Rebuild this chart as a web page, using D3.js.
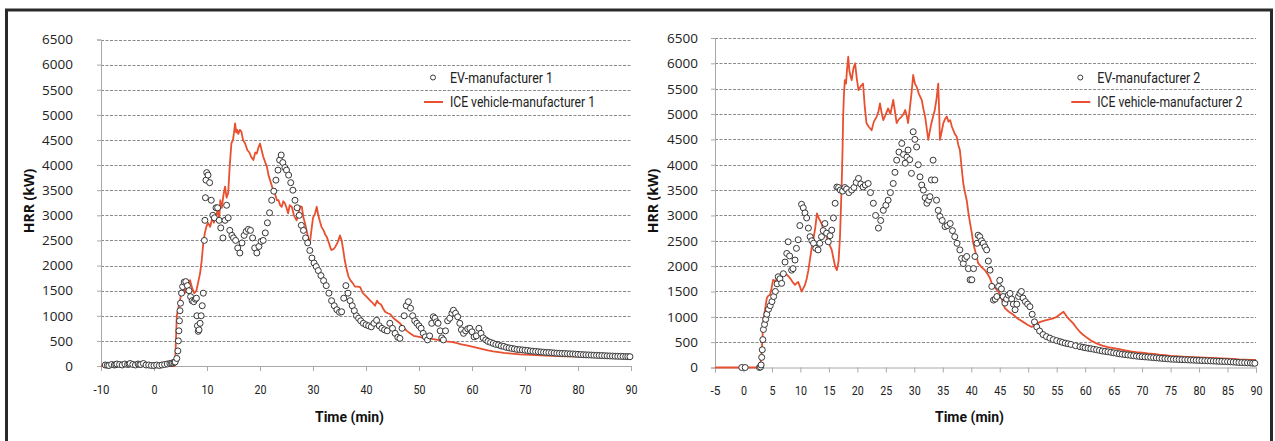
<!DOCTYPE html>
<html><head><meta charset="utf-8">
<script src="https://cdn.jsdelivr.net/npm/d3@7"></script>
<style>
html,body{margin:0;padding:0;background:#fff;}
svg{display:block;}
</style></head>
<body>
<svg id="chart" width="1275" height="441"></svg>
<script>
// ---------- DATA (time in min, HRR in kW) ----------
const yTicks = [0,500,1000,1500,2000,2500,3000,3500,4000,4500,5000,5500,6000,6500];
const xTicksLeft = [-10,0,10,20,30,40,50,60,70,80,90];
const xTicksRight = [-5,0,5,10,15,20,25,30,35,40,45,50,55,60,65,70,75,80,85,90];
const legendLeft = ["EV-manufacturer 1","ICE vehicle-manufacturer 1"];
const legendRight = ["EV-manufacturer 2","ICE vehicle-manufacturer 2"];

const ev1 = [[-9.2,20],[-8.8,15],[-8.5,10],[-8,30],[-7.5,20],[-7.2,25],[-7,40],[-6.5,30],[-6,20],[-5.5,40],[-5,30],[-4.7,35],[-4.5,50],[-4,30],[-3.5,20],[-3,40],[-2.7,30],[-2.5,30],[-2,50],[-1.5,20],[-1,20],[-0.5,10],[0,10],[0.5,20],[1,10],[1.5,20],[2,30],[2.5,40],[3,50],[3.3,55],[3.5,60],[3.8,70],[4,80],[4.3,150],
[4.5,300],[4.6,500],[4.7,700],[4.8,900],[4.9,1100],[5.0,1250],[5.2,1450],[5.4,1580],[5.7,1670],[6.0,1680],[6.3,1600],[6.6,1500],[6.9,1380],[7.2,1300],[7.5,1280],[7.8,1330],[8.0,1350],[8.1,1000],[8.2,800],[8.35,690],[8.5,720],[8.7,850],[8.9,1000],[9.1,1200],[9.3,1450],[9.5,2500],[9.6,2900],[9.7,3350],[9.8,3700],[9.95,3850],[10.2,3800],[10.5,3650],[10.8,3300],[11.1,3000],[11.4,2950],[11.7,3150],[12.0,3150],[12.3,2900],[12.6,2750],[13.0,2550],[13.4,2900],[13.7,3200],[14.0,2950],[14.3,2700],[14.7,2600],[15.0,2550],[15.4,2500],[15.8,2350],[16.2,2250],[16.6,2450],[17.0,2600],[17.4,2680],[17.8,2720],[18.2,2700],[18.6,2550],[19.0,2350],[19.4,2250],[19.8,2380],[20.2,2480],[20.6,2500],[21.0,2650],[21.4,2850],[21.8,3050],[22.2,3300],[22.6,3480],[23.0,3700],[23.4,3900],[23.7,4100],[24.0,4200],[24.3,4050],[24.7,3950],[25.0,3900],[25.4,3800],[25.8,3650],[26.2,3500],[26.6,3300],[27.0,3150],[27.4,3000],[27.8,2800],[28.2,2700],[28.6,2550],[29.0,2450],[29.4,2300],[29.8,2150],[30.2,2050],[30.6,1980],[31.0,1900],[31.5,1800],[32.0,1700],[32.5,1600],[33.0,1450],[33.5,1300],[34.0,1200],[34.5,1120],[35.0,1070],[35.4,1080],[35.8,1350],[36.2,1600],[36.6,1450],[37.0,1300],[37.4,1200],[37.8,1100],[38.2,1000],[38.6,950],[39.0,900],[39.5,850],[40.0,820],[40.5,800],[41.0,780],[41.5,850],[42.0,910],[42.5,800],[43.0,750],[43.5,720],[44.0,700],[44.5,850],[45.0,750],[45.5,650],[46.0,570],[46.4,550],[46.8,750],[47.2,1000],[47.6,1200],[48.0,1280],[48.4,1150],[48.8,1000],[49.2,900],[49.6,850],[50.0,800],[50.4,750],[50.8,650],[51.2,580],[51.6,520],[52.0,600],[52.4,850],[52.7,980],[53.0,950],[53.3,880],[53.6,850],[54.0,700],[54.3,560],[54.6,520],[55.0,700],[55.4,900],[55.8,950],[56.2,1050],[56.5,1110],[56.9,1050],[57.3,980],[57.7,850],[58.0,720],[58.4,650],[58.8,700],[59.2,740],[59.6,750],[60.0,680],[60.4,580],[60.8,600],[61.3,750],[61.7,650],[62.1,560],[62.6,520],[63.0,490],[63.5,470],[64,450],[64.5,430],[65,420],[65.5,400],[66,390],[66.5,370],[67,360],[67.5,350],[68,340],[68.5,330],[69,325],[69.5,320],[70,315],[70.5,308],[71,300],[71.5,295],[72,290],[72.5,285],[73,280],[73.5,275],[74,270],[74.5,268],[75,265],[75.5,260],[76,255],[76.5,252],[77,250],[77.5,248],[78,245],[78.5,242],[79,240],[79.5,236],[80,232],[80.5,228],[81,225],[81.5,222],[82,220],[82.5,218],[83,215],[83.5,212],[84,210],[84.5,208],[85,205],[85.5,202],[86,200],[86.5,198],[87,195],[87.5,194],[88,192],[88.5,190],[89,188],[89.4,187],[89.8,185]];

const ice1 = [[-10,0],[-5,0],[0,0],[3.9,0],[4.0,100],[4.3,1000],[4.8,1250],[5.2,1480],[5.5,1640],[5.8,1450],[6.1,1550],[6.5,1650],[6.8,1710],[7.2,1550],[7.6,1450],[8.0,1500],[8.4,1700],[8.7,1850],[9.0,2100],[9.3,2450],[9.6,2650],[9.9,2780],[10.2,2850],[10.6,2770],[11.0,2950],[11.3,2850],[11.6,2950],[12.0,3100],[12.3,2900],[12.5,3300],[12.8,3150],[13.1,3400],[13.4,3570],[13.7,3350],[14.0,3450],[14.3,4000],[14.6,4430],[14.9,4500],[15.1,4650],[15.3,4830],[15.5,4650],[15.7,4700],[15.9,4620],[16.2,4700],[16.5,4660],[16.8,4500],[17.2,4430],[17.6,4300],[18.0,4250],[18.4,4150],[18.75,4100],[19.1,4250],[19.4,4230],[19.7,4350],[20.0,4430],[20.3,4300],[20.6,4170],[21.0,4050],[21.3,3970],[21.6,3800],[21.9,3700],[22.2,3600],[22.5,3500],[22.9,3400],[23.2,3300],[23.5,3300],[23.8,3200],[24.1,3170],[24.4,3280],[24.7,3240],[25.0,3150],[25.3,3040],[25.6,3200],[26.0,3170],[26.4,3000],[26.9,2900],[27.3,3050],[27.6,3180],[27.9,3170],[28.2,2950],[28.5,2840],[28.9,2650],[29.2,2500],[29.4,2440],[29.7,2700],[30.0,2950],[30.4,3040],[30.7,3170],[31.0,3000],[31.3,2880],[31.6,2770],[32.0,2700],[32.3,2620],[32.6,2570],[33.0,2450],[33.3,2350],[33.5,2310],[33.9,2330],[34.2,2370],[34.6,2450],[35.1,2600],[35.4,2500],[35.7,2310],[36.0,2100],[36.4,1900],[36.7,1780],[37.1,1700],[37.5,1650],[37.9,1580],[38.4,1580],[38.9,1570],[39.4,1450],[40.1,1380],[40.8,1300],[41.3,1250],[41.7,1200],[42.1,1300],[42.4,1250],[42.8,1230],[43.2,1150],[43.6,1080],[44.1,1050],[44.6,1030],[45.2,950],[45.8,900],[46.4,850],[47.0,780],[47.7,700],[48.3,650],[49.0,600],[50.0,580],[51.0,555],[52.0,545],[53.0,530],[54.0,510],[55.0,490],[56.0,480],[57.0,460],[58.0,430],[59.0,410],[60.0,385],[61.0,360],[62.0,335],[63.0,310],[64.0,290],[65.0,275],[66.0,260],[67.0,250],[68.0,240],[69.0,230],[70,225],[72,215],[74,205],[76,198],[78,192],[80,188],[82,185],[84,182],[86,178],[88,175],[90,172]];

const ev2 = [[-0.3,0],[0.3,0],[2.8,0],[3.0,10],[3.1,50],[3.2,200],[3.3,350],[3.4,550],[3.5,750],[3.7,850],[3.9,950],[4.1,1050],[4.4,1150],[4.7,1220],[5.0,1300],[5.3,1400],[5.6,1500],[5.9,1650],[6.1,1790],[6.4,1750],[6.7,1660],[7.0,1850],[7.3,2080],[7.6,2250],[7.85,2480],[8.1,2200],[8.45,1920],[8.7,1950],[9.05,2120],[9.3,2350],[9.6,2520],[9.9,2800],[10.2,3220],[10.5,3150],[10.8,3050],[11.1,2950],[11.4,2750],[11.7,2580],[12.0,2500],[12.3,2450],[12.7,2350],[13.1,2320],[13.4,2450],[13.7,2580],[14.0,2700],[14.3,2840],[14.6,2650],[14.9,2480],[15.2,2600],[15.5,2710],[15.8,2950],[16.1,3240],[16.4,3560],[16.7,3550],[17.0,3500],[17.4,3480],[17.8,3550],[18.1,3520],[18.5,3450],[19.0,3500],[19.4,3550],[19.8,3650],[20.2,3730],[20.6,3620],[21.0,3560],[21.4,3600],[21.9,3630],[22.3,3450],[22.8,3240],[23.2,3000],[23.7,2750],[24.1,2900],[24.55,3100],[25.0,3200],[25.4,3300],[25.8,3450],[26.3,3630],[26.6,3850],[26.9,4090],[27.3,4250],[27.8,4420],[28.1,4200],[28.4,4030],[28.7,4150],[28.9,4290],[29.2,4100],[29.5,3830],[29.8,4650],[30.1,4500],[30.4,4350],[30.7,4000],[31.0,3760],[31.3,3600],[31.6,3500],[31.9,3350],[32.2,3240],[32.5,3300],[32.75,3370],[33.0,3700],[33.3,4090],[33.6,3700],[33.9,3300],[34.2,3100],[34.5,2980],[34.9,2900],[35.4,2780],[35.8,2800],[36.3,2840],[36.7,2700],[37.1,2580],[37.5,2450],[38.0,2320],[38.3,2150],[38.6,2050],[38.9,2150],[39.2,2190],[39.5,1950],[39.8,1730],[40.1,1730],[40.4,1950],[40.65,2190],[41.0,2450],[41.2,2610],[41.5,2580],[41.8,2500],[42.1,2450],[42.4,2380],[42.7,2320],[43.0,2100],[43.3,1920],[43.6,1600],[43.9,1330],[44.2,1350],[44.5,1400],[44.8,1600],[45.0,1720],[45.3,1550],[45.6,1400],[45.9,1270],[46.2,1350],[46.5,1430],[46.8,1460],[47.1,1350],[47.4,1250],[47.7,1140],[48.0,1250],[48.3,1400],[48.55,1460],[48.8,1500],[49.1,1370],[49.5,1300],[49.9,1250],[50.3,1200],[50.7,1050],[51.1,900],[51.5,800],[52.0,720],[52.6,650],[53.2,610],[53.8,580],[54.4,550],[55.0,530],[55.6,510],[56.0,495],[56.5,480],[57.0,468],[57.5,455],[58.3,430],[59.1,410],[59.6,400],[60,390],[60.5,380],[61,370],[61.5,360],[62,350],[62.5,338],[63,325],[63.5,318],[64,310],[64.5,300],[65,290],[65.5,280],[66,270],[66.5,262],[67,255],[67.5,248],[68,240],[68.5,232],[69,225],[69.5,219],[70,213],[70.5,209],[71,205],[71.5,200],[72,195],[72.5,190],[73,185],[73.5,180],[74,175],[74.5,170],[75,165],[75.5,162],[76,160],[76.5,157],[77,155],[77.5,152],[78,150],[78.5,147],[79,145],[79.5,142],[80,140],[80.5,137],[81,135],[81.5,132],[82,130],[82.5,127],[83,125],[83.5,122],[84,120],[84.5,117],[85,115],[85.5,111],[86,108],[86.5,104],[87,100],[87.5,97],[88,95],[88.5,92],[89,90],[89.4,86],[89.8,83]];

const ice2 = [[-5,0],[0,0],[2.9,0],[3.2,300],[3.5,940],[3.8,1150],[4.1,1370],[4.4,1420],[4.66,1430],[4.9,1550],[5.2,1730],[5.6,1700],[6.1,1790],[6.7,1820],[7.3,1860],[7.7,1820],[8.2,1760],[8.6,1690],[9.05,1630],[9.3,1660],[9.6,1690],[9.9,1600],[10.2,1500],[10.5,1560],[10.8,1630],[11.1,1750],[11.4,1920],[11.7,2150],[12.0,2380],[12.3,2550],[12.6,2750],[12.9,3040],[13.2,2950],[13.7,2840],[14.1,2700],[14.6,2580],[15.0,2450],[15.5,2320],[15.8,2150],[16.1,1990],[16.4,1920],[16.7,2100],[16.95,2580],[17.1,3100],[17.25,3630],[17.4,4300],[17.5,4950],[17.65,5400],[17.8,5670],[18.0,5600],[18.2,5900],[18.4,6130],[18.6,5850],[18.8,5750],[19.0,5670],[19.3,5900],[19.6,6000],[19.9,5700],[20.2,5470],[20.6,5550],[21.0,5600],[21.3,5140],[21.6,4820],[22.0,4750],[22.5,4680],[22.9,4850],[23.4,4950],[23.7,5050],[23.97,5210],[24.3,5000],[24.55,4880],[25.0,5000],[25.4,5110],[25.8,5000],[26.3,5280],[26.6,5050],[26.9,4820],[27.3,4900],[27.8,4950],[28.1,5000],[28.4,5080],[28.7,4950],[28.9,4820],[29.2,5100],[29.5,5400],[29.8,5770],[30.1,5600],[30.4,5540],[30.8,5400],[31.3,5280],[31.6,5100],[31.9,4950],[32.2,4700],[32.45,4490],[32.7,4650],[33.0,4820],[33.3,4950],[33.6,5080],[33.9,5300],[34.2,5600],[34.35,5100],[34.5,4490],[34.8,4650],[35.1,4820],[35.4,4900],[35.7,4950],[36.0,4850],[36.3,4880],[36.6,4750],[36.85,4680],[37.15,4600],[37.45,4550],[37.7,4400],[38.0,4290],[38.3,3950],[38.6,3630],[38.9,3450],[39.2,3300],[39.5,3050],[39.8,2840],[40.1,2650],[40.35,2450],[40.8,2250],[41.2,2060],[41.8,1980],[42.4,1920],[43.0,1820],[43.3,1760],[43.6,1660],[44.0,1600],[44.5,1530],[45.0,1460],[45.5,1300],[45.9,1170],[46.6,1100],[47.4,1040],[48.2,960],[49.1,900],[49.8,850],[50.6,800],[51.3,850],[52.1,900],[53.0,930],[53.7,950],[54.4,970],[55.0,1000],[55.6,1050],[56.2,1100],[56.5,1050],[56.8,1000],[57.3,940],[57.9,870],[58.5,780],[59.1,700],[59.7,640],[60.4,580],[61.2,520],[62.0,477],[63.0,430],[64.0,400],[65.0,380],[66,360],[67,340],[68,320],[69,305],[70,295],[71,280],[72,270],[73,255],[74,245],[75,230],[76,222],[77,215],[78,210],[79,205],[80,200],[81,195],[82,190],[83,185],[84,180],[85,175],[86,168],[87,160],[88,155],[89,150],[90,148]];

// ---------- LAYOUT ----------
const svg = d3.select("#chart");
const RED = "#e8502f";
const tickFont = "'Open Sans', 'Noto Sans', sans-serif";
const condFont = "'Roboto', 'Liberation Sans', sans-serif";

svg.append("rect").attr("x",6.5).attr("y",10).attr("width",1265).attr("height",480)
  .attr("fill","none").attr("stroke","#2a2a2a").attr("stroke-width",3);

const panels = [
  {ev:ev1, ice:ice1, xDom:[-10,90], xTicks:xTicksLeft, legend:legendLeft,
   x0:101, x1:631, y0:366, y1:39.5, yLabX:73, yTitleX:28, xTitleX:349.5, legX:450},
  {ev:ev2, ice:ice2, xDom:[-5,90], xTicks:xTicksRight, legend:legendRight,
   x0:715, x1:1256, y0:367.5, y1:38, yLabX:698, yTitleX:652, xTitleX:969.5, legX:1097.3}
];

const labelWidth = s => s.split("").reduce((a, c) => a + (c === "-" ? 4 : 6), 0);

panels.forEach(p => {
  const x = d3.scaleLinear().domain(p.xDom).range([p.x0, p.x1]);
  const y = d3.scaleLinear().domain([0, 6500]).range([p.y0, p.y1]);
  const g = svg.append("g");

  // gridlines
  g.append("g").selectAll("line").data(yTicks.filter(d => d > 0)).join("line")
    .attr("x1", p.x0).attr("x2", p.x1)
    .attr("y1", d => Math.round(y(d)) + 0.5).attr("y2", d => Math.round(y(d)) + 0.5)
    .attr("stroke", "#8a8a8a").attr("stroke-width", 1).attr("stroke-dasharray", "3,1.5");

  // y axis
  const yAxis = g.append("g").attr("transform", `translate(${p.x0},0)`)
    .call(d3.axisLeft(y).tickValues(yTicks).tickSize(4).tickPadding(p.x0 - p.yLabX - 4).tickFormat(d => String(d)));
  yAxis.select(".domain").attr("stroke", "#a8a8a8");
  yAxis.selectAll(".tick line").attr("stroke", "#a8a8a8");
  yAxis.selectAll("text").attr("font-family", tickFont).attr("font-size", "13.5px").attr("fill", "#222");

  // x axis
  const xAxis = g.append("g").attr("transform", `translate(0,${p.y0})`)
    .call(d3.axisBottom(x).tickValues(p.xTicks).tickSize(5).tickFormat(d => String(d)));
  xAxis.select(".domain").attr("stroke", "#a8a8a8");
  xAxis.selectAll(".tick line").attr("stroke", "#a8a8a8");
  xAxis.selectAll("text").attr("y", 23).attr("dy", "0.35em")
    .attr("font-family", condFont).attr("font-size", "13px").attr("fill", "#222")
    .attr("textLength", d => labelWidth(String(d))).attr("lengthAdjust", "spacingAndGlyphs");

  // ICE line
  g.append("path").datum(p.ice)
    .attr("d", d3.line().x(d => x(d[0])).y(d => y(d[1])))
    .attr("fill", "none").attr("stroke", RED).attr("stroke-width", 1.8).attr("stroke-linejoin", "round");

  // EV circles
  g.append("g").selectAll("circle").data(p.ev).join("circle")
    .attr("cx", d => x(d[0])).attr("cy", d => y(d[1])).attr("r", 3)
    .attr("fill", "#fff").attr("stroke", "#363636").attr("stroke-width", 1);

  // axis titles
  g.append("text").attr("transform", `translate(${p.yTitleX},201) rotate(-90)`)
    .attr("text-anchor", "middle").attr("dominant-baseline", "central")
    .attr("font-family", tickFont).attr("font-weight", "bold").attr("font-size", "14px").attr("fill", "#111")
    .text("HRR (kW)");
  g.append("text").attr("x", p.xTitleX).attr("y", 417).attr("text-anchor", "middle").attr("dominant-baseline", "central")
    .attr("font-family", condFont).attr("font-weight", "bold").attr("font-size", "15px").attr("fill", "#111")
    .attr("textLength", 69).attr("lengthAdjust", "spacingAndGlyphs")
    .text("Time (min)");

  // legend
  const lg = g.append("g");
  lg.append("circle").attr("cx", p.legX - 17).attr("cy", 77.5).attr("r", 2.5)
    .attr("fill", "#fff").attr("stroke", "#3a3a3a").attr("stroke-width", 1);
  lg.append("line").attr("x1", p.legX - 26).attr("x2", p.legX - 7).attr("y1", 102).attr("y2", 102)
    .attr("stroke", RED).attr("stroke-width", 2);
  lg.selectAll("text").data(p.legend).join("text")
    .attr("x", p.legX).attr("y", (d, i) => 77.5 + i * 24.5).attr("dominant-baseline", "central")
    .attr("font-family", condFont).attr("font-size", "14px").attr("fill", "#222")
    .attr("textLength", (d, i) => i === 0 ? 103 : 145).attr("lengthAdjust", "spacingAndGlyphs")
    .text(d => d);
});
</script>
</body></html>
